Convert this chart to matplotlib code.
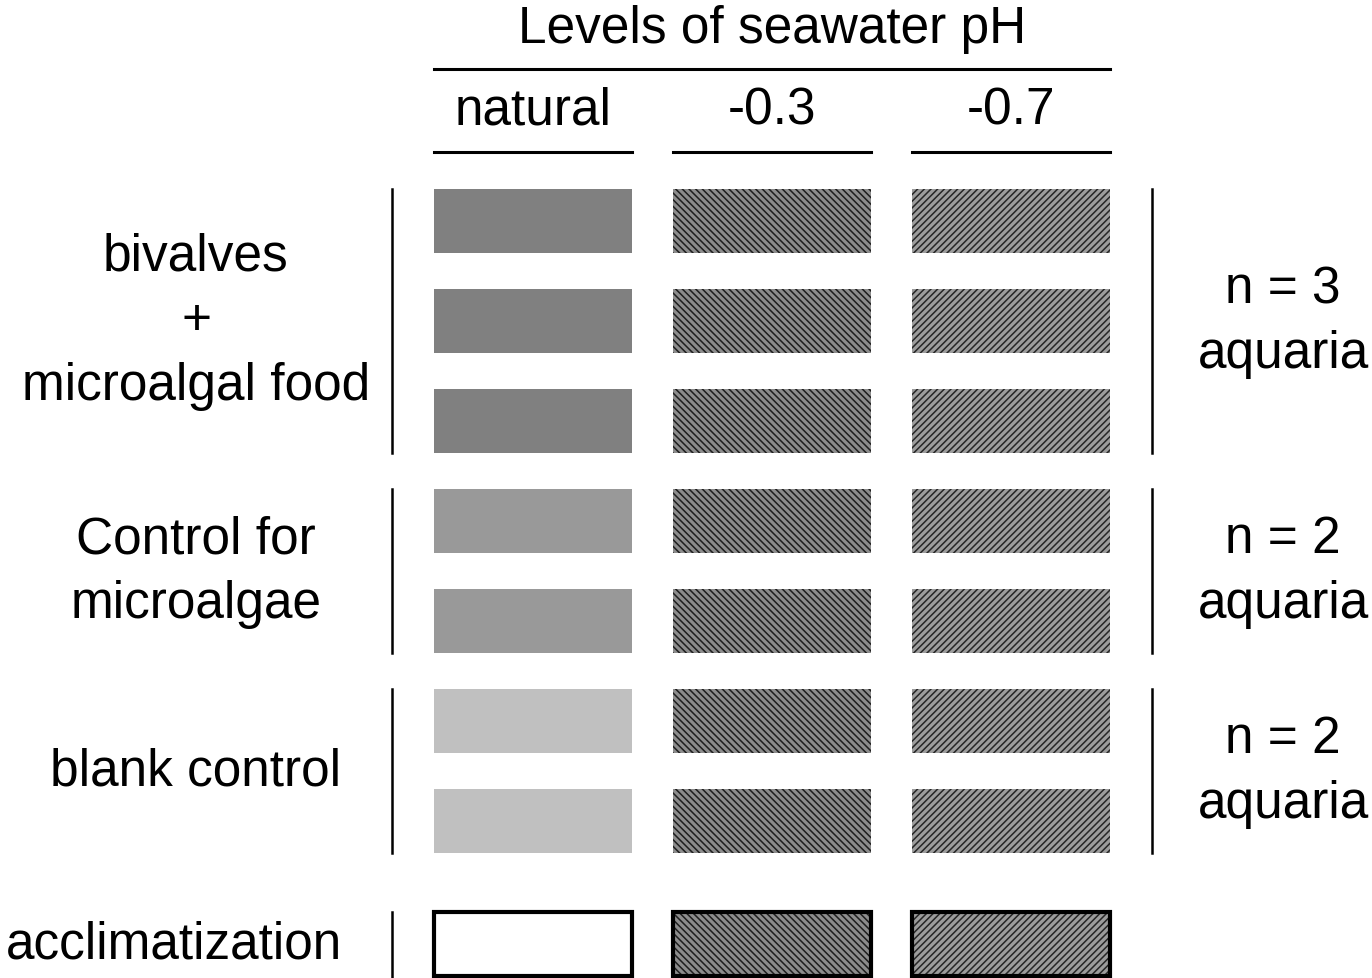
import numpy as np
import matplotlib.pyplot as plt
from matplotlib.patches import Rectangle

plt.rcParams['font.family'] = ['Liberation Sans', 'DejaVu Sans']
plt.rcParams['hatch.linewidth'] = 1.1

# -----------------------------
# data
# -----------------------------
title = "Levels of seawater pH"
ph_levels = ["natural", "-0.3", "-0.7"]
groups = ["bivalves\n+\nmicroalgal food", "Control for\nmicroalgae", "blank control", "acclimatization"]
replicates = [3, 2, 2, 1]
n_labels = ["n = 3\naquaria", "n = 2\naquaria", "n = 2\naquaria", None]
natural_fill = ["#808080", "#999999", "#c0c0c0", "white"]

# -----------------------------
# layout (pixel space)
# -----------------------------
W, H = 1372, 979
col_x0, col_w, col_gap = 434, 198, 41
row_y0, row_h, row_pitch = 190, 64, 100
acclim_y = 913
# each hatch char = 6 lines per inch -> 5 chars ~ 3.3 px pitch
# (face, hatch pattern, hatch colour)
hatch_style = {"-0.3": ("#8c8c8c", "\\" * 5, "#1e1e1e"),
               "-0.7": ("#9c9c9c", "/" * 5, "#262626")}

fig = plt.figure(figsize=(W / 100, H / 100), dpi=100)
ax = fig.add_axes([0, 0, 1, 1])
ax.set_xlim(0, W)
ax.set_ylim(H, 0)
ax.axis("off")

col_left = [col_x0 + j * (col_w + col_gap) for j in range(len(ph_levels))]
fs = 37

# header
ax.text((col_left[0] + col_left[-1] + col_w) / 2, 30, title, ha="center", va="center", fontsize=fs)
ax.plot([col_left[0], col_left[-1] + col_w], [70, 70], color="black", lw=2.2)
for x, lab in zip(col_left, ph_levels):
    ax.text(x + col_w / 2, 111, lab, ha="center", va="center", fontsize=fs)
    ax.plot([x, x + col_w], [153, 153], color="black", lw=2.2)

# rows
row = 0
for g, (name, n, nat, nlab) in enumerate(zip(groups, replicates, natural_fill, n_labels)):
    acclim = nlab is None
    tops = [acclim_y] if acclim else [row_y0 + (row + k) * row_pitch for k in range(n)]
    row += n
    for y in tops:
        for x, lev in zip(col_left, ph_levels):
            if lev == "natural":
                ax.add_patch(Rectangle((x, y), col_w, row_h, facecolor=nat, lw=0))
            else:
                face, hatch, hc = hatch_style[lev]
                ax.add_patch(Rectangle((x, y), col_w, row_h, facecolor=face,
                                       edgecolor=hc, hatch=hatch, lw=0))
            if acclim:
                ax.add_patch(Rectangle((x, y), col_w, row_h, facecolor="none",
                                       edgecolor="black", lw=3))
    y_top, y_bot = tops[0], tops[-1] + row_h
    if acclim:
        y_bot = H
    ymid = (y_top + y_bot) / 2 if not acclim else acclim_y + row_h / 2
    ax.plot([392, 392], [y_top, y_bot], color="black", lw=1.8)
    lx = 174 if acclim else 196
    ax.text(lx, ymid, name, ha="center", va="center", fontsize=fs, linespacing=1.42)
    if nlab:
        ax.plot([1152, 1152], [y_top, y_bot], color="black", lw=1.8)
        ax.text(1283, ymid, nlab, ha="center", va="center", fontsize=fs, linespacing=1.42)

fig.savefig("out.png", dpi=100)
